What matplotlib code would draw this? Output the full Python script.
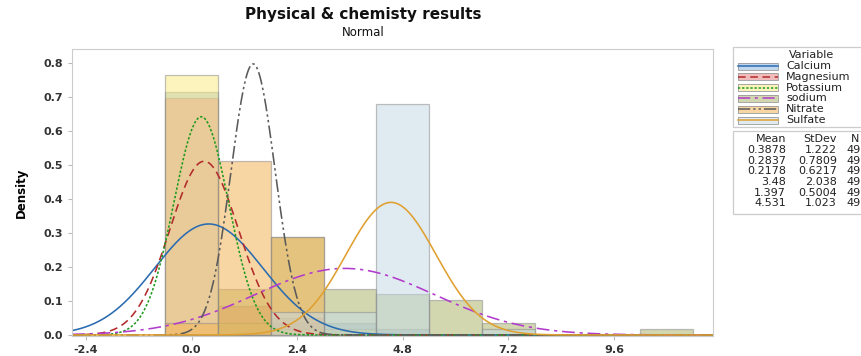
import numpy as np
import matplotlib.pyplot as plt
from matplotlib.patches import Rectangle

# 数据：每个 bin (宽 1.2) 的观测数，读自原图
bin_edges = [-0.6, 0.6, 1.8, 3.0, 4.2, 5.4, 6.6, 7.8, 9.0, 10.2, 11.4]
variables = ['Calcium', 'Magnesium', 'Potassium', 'sodium', 'Nitrate', 'Sulfate']
calcium = [42, 2, 2, 2, 1, 0, 0, 0, 0, 0]
magnesium = [41, 5, 3, 0, 0, 0, 0, 0, 0, 0]
potassium = [45, 2, 1, 1, 0, 0, 0, 0, 0, 0]
sodium = [0, 8, 17, 8, 7, 6, 2, 0, 0, 1]
nitrate = [2, 30, 17, 0, 0, 0, 0, 0, 0, 0]
sulfate = [0, 0, 4, 4, 40, 0, 1, 0, 0, 0]

# 正态拟合参数（图右侧表格）
means = [0.3878, 0.2837, 0.2178, 3.48, 1.397, 4.531]
stdevs = [1.222, 0.7809, 0.6217, 2.038, 0.5004, 1.023]
mean_labels = ['0.3878', '0.2837', '0.2178', '3.48', '1.397', '4.531']
sd_labels = ['1.222', '0.7809', '0.6217', '2.038', '0.5004', '1.023']
n_obs = [49, 49, 49, 49, 49, 49]

counts = [calcium, magnesium, potassium, sodium, nitrate, sulfate]
fill_colors = ['#8db3dd', '#e58181', '#fbeb81', '#abb56b', '#f3b353', '#c5d9e5']
line_colors = ['#2b6cb0', '#b22a2a', '#1f9a1f', '#b23ccc', '#5a5a5a', '#e0a030']
line_styles = ['-', (0, (5, 3)), (0, (1.5, 1.2)), (0, (8, 3, 2, 3)),
               (0, (8, 2, 1.5, 2, 1.5, 2)), '-']

plt.rcParams['font.family'] = ['DejaVu Sans']

fig = plt.figure(figsize=(8.62, 3.56), dpi=100)
ax = fig.add_axes([72/862, 20/356, (713-72)/862, (336-49)/356])

widths = np.diff(bin_edges)
for cnt, n, fc in zip(counts, n_obs, fill_colors):
    dens = np.array(cnt)/(n*widths)
    ax.bar(bin_edges[:-1], dens, width=widths, align='edge', color=fc,
           alpha=0.53, edgecolor='#8a8a8a', linewidth=0.9)

xmin, xmax = -2.72, 11.85
x = np.linspace(xmin, xmax, 600)
for m, s, c, ls in zip(means, stdevs, line_colors, line_styles):
    y = np.exp(-0.5*((x-m)/s)**2)/(s*np.sqrt(2*np.pi))
    ax.plot(x, y, color=c, linestyle=ls, linewidth=1.15)

ax.set_xlim(xmin, xmax)
ax.set_ylim(-0.003, 0.841)
ax.set_xticks([-2.4, 0.0, 2.4, 4.8, 7.2, 9.6])
ax.set_yticks(np.arange(0, 0.81, 0.1))
ax.xaxis.set_major_formatter(plt.FormatStrFormatter('%.1f'))
ax.yaxis.set_major_formatter(plt.FormatStrFormatter('%.1f'))
ax.tick_params(colors='#bbbbbb', labelcolor='#333333', labelsize=8, length=3, width=0.8)
for lab in ax.get_xticklabels() + ax.get_yticklabels():
    lab.set_fontweight('bold')
for sp in ax.spines.values():
    sp.set_color('#cccccc')
ax.set_ylabel('Density', fontsize=8.5, fontweight='bold', labelpad=11)

fig.text(363/862, 1-15/356, 'Physical & chemisty results', ha='center', va='center',
         fontsize=11, fontweight='bold', color='#111111')
fig.text(363/862, 1-32/356, 'Normal', ha='center', va='center', fontsize=8.5, color='#111111')

# 图例 + 统计表（像素坐标）
lg = fig.add_axes([0, 0, 1, 1])
lg.set_xlim(0, 862)
lg.set_ylim(356, 0)
lg.axis('off')
lg.add_patch(Rectangle((733, 47), 140, 80, fill=False, edgecolor='#cccccc', lw=0.9))
lg.add_patch(Rectangle((733, 131), 140, 83, fill=False, edgecolor='#cccccc', lw=0.9))
lg.text(812, 55, 'Variable', ha='center', va='center', fontsize=8, color='#222222')
for i, name in enumerate(variables):
    yy = 66 + i*10.8
    lg.add_patch(Rectangle((738, yy-3.5), 40, 7, facecolor=fill_colors[i], alpha=0.53,
                           edgecolor='none'))
    lg.add_patch(Rectangle((738, yy-3.5), 40, 7, fill=False, edgecolor='#999999', lw=0.6))
    lg.plot([738, 778], [yy, yy], color=line_colors[i], linestyle=line_styles[i], lw=1.1)
    lg.text(786, yy, name, ha='left', va='center', fontsize=8, color='#222222')

lg.text(786, 139, 'Mean', ha='right', va='center', fontsize=8, color='#222222')
lg.text(837, 139, 'StDev', ha='right', va='center', fontsize=8, color='#222222')
lg.text(851, 139, 'N', ha='left', va='center', fontsize=8, color='#222222')
for i in range(len(variables)):
    yy = 150 + i*10.7
    lg.text(786, yy, mean_labels[i], ha='right', va='center', fontsize=8, color='#222222')
    lg.text(837, yy, sd_labels[i], ha='right', va='center', fontsize=8, color='#222222')
    lg.text(846, yy, str(n_obs[i]), ha='left', va='center', fontsize=8, color='#222222')

plt.savefig('out.png', dpi=100)
